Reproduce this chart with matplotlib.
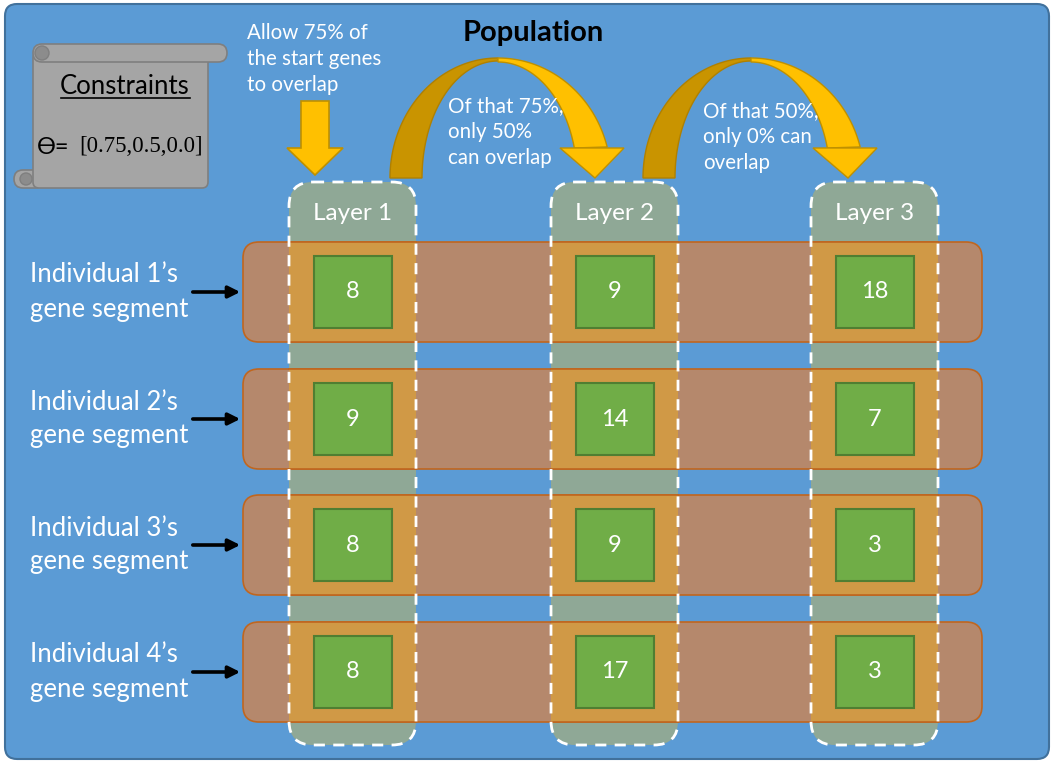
import numpy as np
import matplotlib.pyplot as plt
from matplotlib.patches import FancyBboxPatch, Polygon, Rectangle, Circle

plt.rcParams['font.family'] = ['Lato', 'DejaVu Sans']

# data
layers = ['Layer 1', 'Layer 2', 'Layer 3']
individuals = ["Individual 1\u2019s", "Individual 2\u2019s", "Individual 3\u2019s", "Individual 4\u2019s"]
genes = [[8, 9, 18],
         [9, 14, 7],
         [8, 9, 3],
         [8, 17, 3]]
overlap_notes = ["Of that 75%,\nonly 50%\ncan overlap", "Of that 50%,\nonly 0% can\noverlap"]
theta = "[0.75,0.5,0.0]"

# layout (pixels)
row_top = [242, 369, 495, 622]
row_h = 100
row_x0, row_x1 = 243, 982
col_left = [289, 551, 811]
col_w = 127
col_y0, col_y1 = 182, 745

blue = '#5B9BD5'
brown = '#B5886C'
colfill = '#8FA896'
inter = '#D09946'
green = '#70AD47'
gold = '#FFC000'
darkgold = '#C99400'

fig = plt.figure(figsize=(10.53, 7.62), dpi=100)
ax = fig.add_axes([0, 0, 1, 1])
ax.set_xlim(0, 1053)
ax.set_ylim(762, 0)
ax.axis('off')

ax.add_patch(FancyBboxPatch((5, 4), 1044, 755, boxstyle='round,pad=0,rounding_size=12',
                            fc=blue, ec='#41719C', lw=1.5))

# rows
for i, yt in enumerate(row_top):
    ax.add_patch(FancyBboxPatch((row_x0, yt), row_x1 - row_x0, row_h,
                                boxstyle='round,pad=0,rounding_size=16',
                                fc=brown, ec='#C0661F', lw=1.2, zorder=2))
    yc = yt + row_h / 2
    ax.text(30, yc - 17, individuals[i], color='white', fontsize=18.5, va='center', ha='left')
    ax.text(30, yc + 17, 'gene segment', color='white', fontsize=18.5, va='center', ha='left')
    ax.annotate('', xy=(243, yc), xytext=(190, yc),
                arrowprops=dict(arrowstyle='-|>,head_length=0.7,head_width=0.35', color='black', lw=2.6))

# column fills
for j, xl in enumerate(col_left):
    ax.add_patch(FancyBboxPatch((xl, col_y0), col_w, col_y1 - col_y0,
                                boxstyle='round,pad=0,rounding_size=24',
                                fc=colfill, ec='none', zorder=1))
    for i, yt in enumerate(row_top):
        ax.add_patch(Rectangle((xl, yt), col_w, row_h, fc=inter, ec='none', zorder=3))
        ax.plot([xl, xl + col_w], [yt, yt], color='#C0661F', lw=1.2, zorder=3)
        ax.plot([xl, xl + col_w], [yt + row_h, yt + row_h], color='#C0661F', lw=1.2, zorder=3)
        cx, cy = xl + col_w / 2, yt + row_h / 2
        ax.add_patch(Rectangle((cx - 39, cy - 36), 78, 72, fc=green, ec='#507E32', lw=1.5, zorder=4))
        ax.text(cx, cy, str(genes[i][j]), color='white', fontsize=17, ha='center', va='center', zorder=5)
    ax.add_patch(FancyBboxPatch((xl, col_y0), col_w, col_y1 - col_y0,
                                boxstyle='round,pad=0,rounding_size=24',
                                fc='none', ec='white', lw=2, ls=(0, (4, 3)), zorder=6))
    ax.text(xl + col_w / 2, 213, layers[j], color='white', fontsize=17.5, ha='center', va='center', zorder=7)

# title
ax.text(533, 33, 'Population', color='black', fontsize=21, fontweight='bold', ha='center', va='center')

# straight down arrow
ax.add_patch(Polygon([(301, 101), (329, 101), (329, 148), (343, 148), (315, 175), (287, 148), (301, 148)],
                     closed=True, fc=gold, ec='#BF9000', lw=1.2))
ax.text(247, 59, 'Allow 75% of\nthe start genes\nto overlap', color='white', fontsize=14.8,
        ha='left', va='center', linespacing=1.4)


def ell(cx, cy, rx, ry, a0, a1, n=60):
    t = np.radians(np.linspace(a0, a1, n))
    return np.column_stack([cx + rx * np.cos(t), cy - ry * np.sin(t)])


# curved arrows
for k, dx in enumerate([0, 253]):
    cx, cy = 498 + dx, 178
    outer_l = ell(cx, cy, 108, 120, 180, 90)
    inner_l = ell(cx, cy, 76, 117, 90, 180)
    ax.add_patch(Polygon(np.vstack([outer_l, inner_l]), closed=True, fc=darkgold, ec='#B08000', lw=1))
    outer_r = ell(cx, cy, 113, 120, 90, 15)
    inner_r = ell(cx, cy, 79, 116, 15, 90)
    ax.add_patch(Polygon(np.vstack([outer_r, inner_r]), closed=True, fc=gold, ec='#BF9000', lw=1))
    ax.add_patch(Polygon([(560 + dx, 148), (624 + dx, 148), (595 + dx, 178)], closed=True,
                         fc=gold, ec='#BF9000', lw=1))
    ax.text(448 + dx * 1.008, 132 + 5 * k, overlap_notes[k], color='white', fontsize=14.8,
            ha='left', va='center', linespacing=1.4)

# constraints scroll
grey = '#A5A5A5'
ax.add_patch(FancyBboxPatch((14, 170), 30, 18, boxstyle='round,pad=0,rounding_size=9',
                            fc=grey, ec='#7F7F7F', lw=1.2))
ax.add_patch(FancyBboxPatch((33, 52), 175, 136, boxstyle='round,pad=0,rounding_size=6',
                            fc=grey, ec='#7F7F7F', lw=1.2))
ax.add_patch(FancyBboxPatch((33, 44), 194, 18, boxstyle='round,pad=0,rounding_size=9',
                            fc=grey, ec='#7F7F7F', lw=1.2))
ax.add_patch(Circle((42, 53), 7, fc='#8C8C8C', ec='#7F7F7F', lw=1))
ax.add_patch(Circle((26, 179), 6, fc='#8C8C8C', ec='#7F7F7F', lw=1))
ax.text(125, 86, 'Constraints', color='black', fontsize=18.5, ha='center', va='center')
ax.plot([61, 190], [98, 98], color='black', lw=1.2)
ax.text(37, 147, '\u03f4=', color='black', fontsize=17, ha='left', va='center')
ax.text(79, 147, theta, color='black', fontsize=16.5, ha='left', va='center', family='Liberation Serif')

fig.savefig('out.png', dpi=100)
